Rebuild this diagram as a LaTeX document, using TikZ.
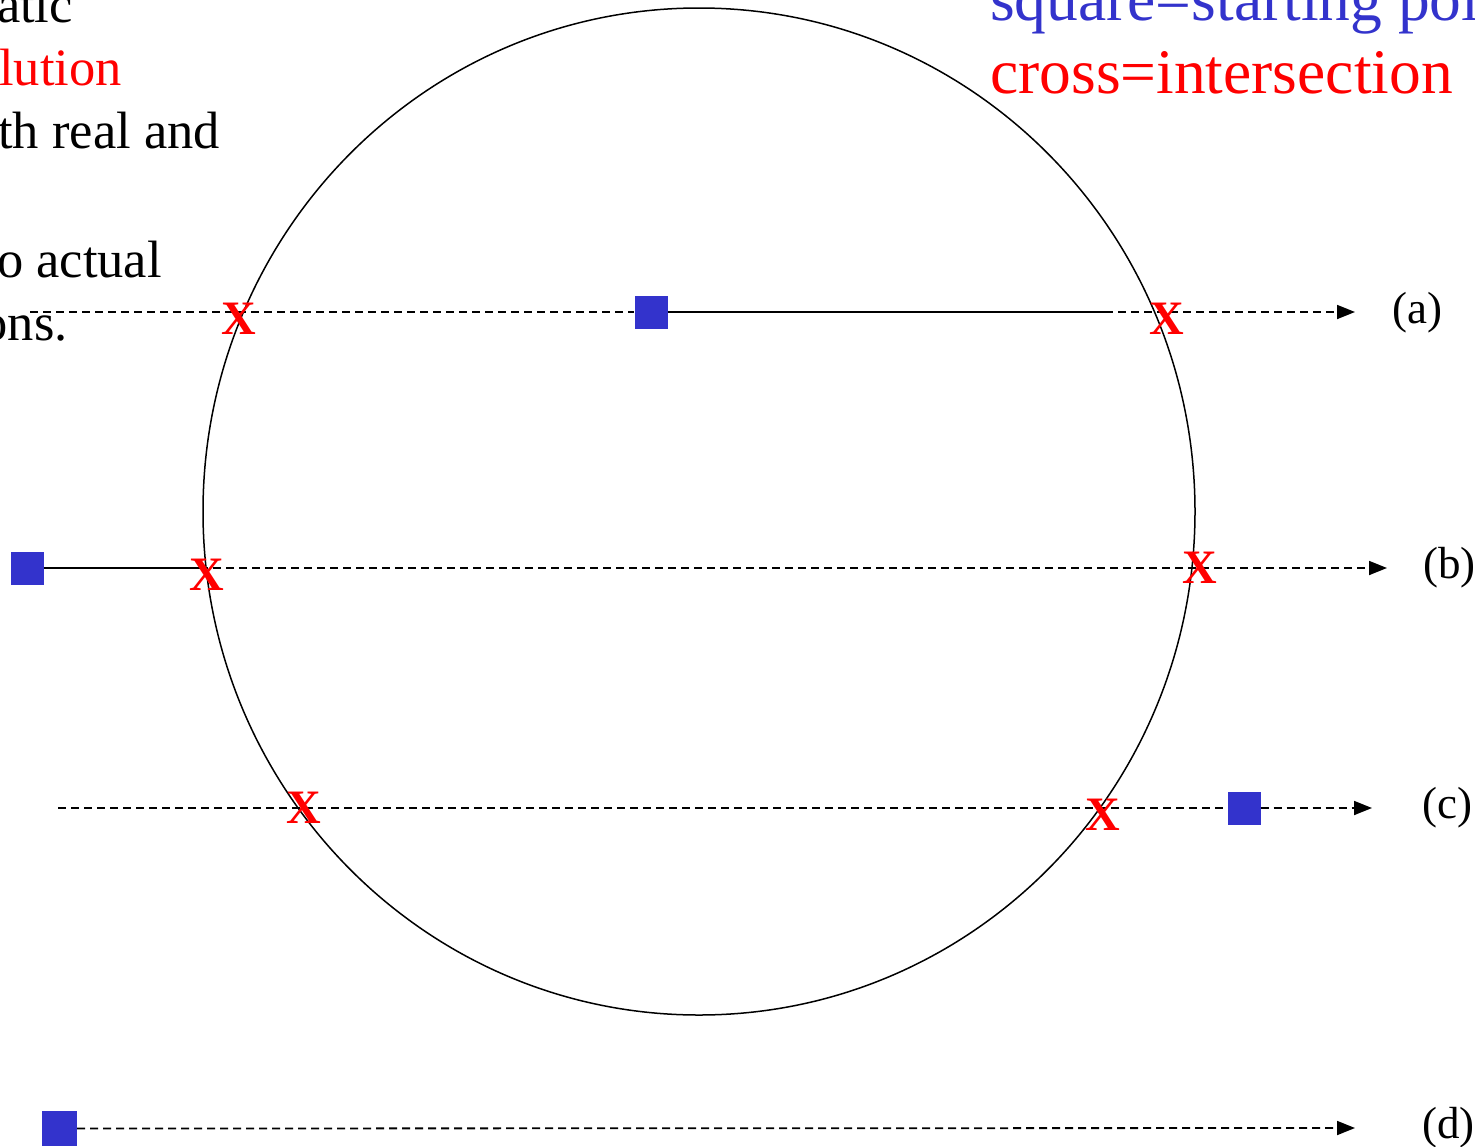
\documentclass[tikz,border=0pt]{standalone}
\usepackage{fontspec}
\setmainfont{Liberation Serif}
\usetikzlibrary{arrows.meta}
\definecolor{sqblue}{RGB}{51,51,204}
\definecolor{xred}{RGB}{255,0,0}
\tikzset{
 sq/.style={fill=sqblue, minimum size=33pt, inner sep=0pt, draw=none},
 crossmark/.style={text=xred, font=\fontsize{48}{48}\selectfont\bfseries, inner sep=0pt},
 lbl/.style={font=\fontsize{45}{45}\selectfont, inner sep=0pt, anchor=west},
 ray/.style={line width=1.8pt, dash pattern=on 8pt off 5pt, -{Triangle[length=18pt,width=14pt]}},
 seg/.style={line width=2pt},
 dsh/.style={line width=1.8pt, dash pattern=on 8pt off 5pt},
 lefttxt/.style={font=\fontsize{52.5}{62}\selectfont, anchor=base east, inner sep=0pt},
 righttxt/.style={font=\fontsize{63.5}{72}\selectfont, anchor=base west, inner sep=0pt},
}
\begin{document}
\begin{tikzpicture}[x=1pt,y=-1pt]
\useasboundingbox (0,0) rectangle (1475,1146);
\clip (0,0) rectangle (1475,1146);
% texts
\node[lefttxt] (t1) at (73,22) {atic};
\node[lefttxt, text=xred] (t2) at (122,85) {lution};
\node[lefttxt] (t3) at (220,148) {th real and};
\node[lefttxt] (t4) at (162,277) {o actual};
\node[lefttxt] (t5) at (68,340) {ons.};
\node[righttxt, text=sqblue] (r1) at (990,20) {square=starting poi};
\node[righttxt, text=xred] (r2) at (990,93) {cross=intersection};
% circle
\draw[line width=1.5pt] (699,511.5) ellipse [x radius=496, y radius=503.5];
% squares
\node[sq] (sqa) at (651,312) {};
\node[sq] (sqb) at (27,568) {};
\node[sq] (sqc) at (1244,808) {};
\node[sq, minimum size=35pt] (sqd) at (59.5,1128.5) {};
% coordinates
\coordinate (a0) at (30,312);
\coordinate (a1) at (1105,312);
\coordinate (a2) at (1355,312);
\coordinate (b1) at (200,568);
\coordinate (b2) at (1387,568);
\coordinate (c0) at (58,808);
\coordinate (c2) at (1372,808);
\coordinate (d2) at (1355,1128);
% lines
\draw[dsh] (a0) -- (sqa.west);
\draw[seg] (sqa.east) -- (a1);
\draw[ray] (a1) -- (a2);
\draw[seg] (sqb.east) -- (b1);
\draw[ray] (b1) -- (b2);
\draw[dsh] (c0) -- (sqc.west);
\draw[ray] (sqc.east) -- (c2);
\draw[ray] (sqd.east) -- (d2);
% crosses
\node[crossmark] (xa1) at (239,319) {X};
\node[crossmark] (xa2) at (1167,319) {X};
\node[crossmark] (xb1) at (207,575) {X};
\node[crossmark] (xb2) at (1200,568) {X};
\node[crossmark] (xc1) at (304,808) {X};
\node[crossmark] (xc2) at (1103,815) {X};
% labels
\node[lbl] (la) at (1392,313) {(a)};
\node[lbl] (lb) at (1423,568) {(b)};
\node[lbl] (lc) at (1422,808) {(c)};
\node[lbl] (ld) at (1422,1128) {(d)};
\end{tikzpicture}
\end{document}
